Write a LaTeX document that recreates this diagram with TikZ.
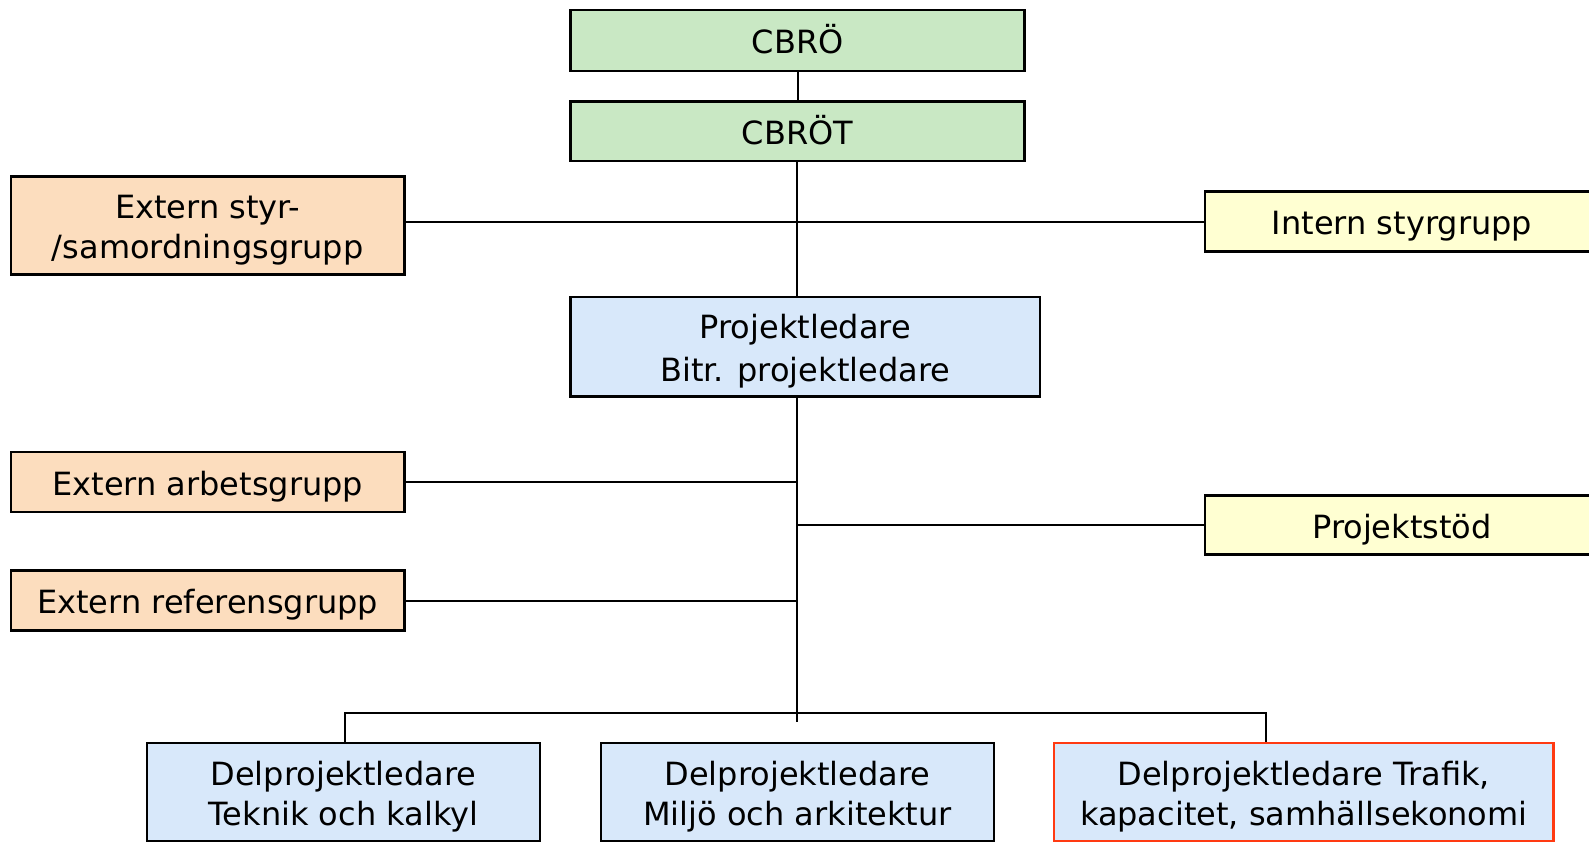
\documentclass[tikz,border=0pt]{standalone}
\usepackage{fontspec}
\setmainfont{DejaVu Sans}
\definecolor{gfill}{HTML}{C9E8C4}
\definecolor{ofill}{HTML}{FCDDBE}
\definecolor{yfill}{HTML}{FFFFD2}
\definecolor{bfill}{HTML}{D8E8FA}
\definecolor{redline}{HTML}{FF3A12}
\newcommand\tstrut{\rule{0pt}{34.5pt}}
\newcommand\bstrut{\rule[-8pt]{0pt}{8pt}}
\begin{document}
\begin{tikzpicture}[x=1pt,y=-1pt,
  box/.style={draw=black,line width=2.6pt,inner sep=0pt,align=center,
    font=\fontsize{32}{39.5}\selectfont,text=black},
  gbox/.style={box,fill=gfill},
  obox/.style={box,fill=ofill},
  ybox/.style={box,fill=yfill},
  bbox/.style={box,fill=bfill},
  conn/.style={draw=black,line width=2pt}]
\useasboundingbox (0,0) rectangle (1589,843);
\clip (0,0) rectangle (1589,843);
\node[gbox,minimum width=454pt,minimum height=60.8pt] (cbro) at (797.6,40.5) {\tstrut CBRÖ\bstrut};
\node[gbox,minimum width=454pt,minimum height=59.8pt] (cbrot) at (797.6,131.2) {\tstrut CBRÖT\bstrut};
\node[obox,minimum width=393.3pt,minimum height=98.3pt] (extstyr) at (207.7,225.4) {\tstrut Extern styr-\\/samordningsgrupp\bstrut};
\node[ybox,minimum width=394pt,minimum height=59.8pt] (intstyr) at (1402,221.4) {\tstrut Intern styrgrupp\bstrut};
\node[bbox,minimum width=469.2pt,minimum height=99.3pt,font=\fontsize{32}{42.5}\selectfont] (pl) at (805.2,346.6) {\tstrut Projektledare\\Bitr. projektledare\bstrut};
\node[obox,minimum width=393.3pt,minimum height=59.8pt] (arb) at (207.7,481.9) {\tstrut Extern arbetsgrupp\bstrut};
\node[ybox,minimum width=394pt,minimum height=58.8pt] (stod) at (1402,525) {\tstrut Projektstöd\bstrut};
\node[obox,minimum width=393.3pt,minimum height=59.8pt] (ref) at (207.7,600.5) {\tstrut Extern referensgrupp\bstrut};
\node[bbox,minimum width=393pt,minimum height=98.3pt] (dp1) at (343.5,792) {\tstrut Delprojektledare\\Teknik och kalkyl\bstrut};
\node[bbox,minimum width=393pt,minimum height=98.3pt] (dp2) at (797.6,792) {\tstrut Delprojektledare\\Miljö och arkitektur\bstrut};
\node[bbox,draw=redline,minimum width=499.6pt,minimum height=98.3pt] (dp3) at (1303.8,792) {\tstrut Delprojektledare Trafik,\\kapacitet, samhällsekonomi\bstrut};
\coordinate (spine) at (797.4,721.7);
\coordinate (busL) at (344.6,712.7);
\coordinate (busR) at (1265.8,712.7);
\draw[conn] (cbro.south) -- (cbrot.north);
\draw[conn] (cbrot.south -| spine) -- (pl.north -| spine);
\draw[conn] (extstyr.east |- 0,221.7) -- (intstyr.west |- 0,221.7);
\draw[conn] (pl.south -| spine) -- (spine);
\draw[conn] (arb.east) -- (arb.east -| spine);
\draw[conn] (ref.east) -- (ref.east -| spine);
\draw[conn] (stod.west) -- (stod.west -| spine);
\draw[conn] (dp1.north -| busL) -- (busL) -- (busR) -- (dp3.north -| busR);
\end{tikzpicture}
\end{document}
